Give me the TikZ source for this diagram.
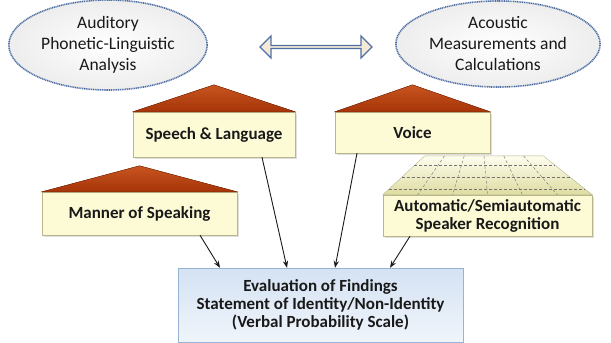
\documentclass[tikz,border=0pt]{standalone}
\usepackage{fontspec}
\setmainfont{Carlito}
\usepackage{tikz}
\usetikzlibrary{positioning,arrows.meta,shadows,shapes.geometric,shapes.arrows,calc}

\definecolor{inkc}{RGB}{25,25,25}
\definecolor{roofc}{RGB}{165,52,8}
\definecolor{roofhi}{RGB}{200,85,32}
\definecolor{boxc}{RGB}{253,251,214}
\definecolor{boxline}{RGB}{185,182,140}
\definecolor{ovalline}{RGB}{80,112,165}
\definecolor{evaltop}{RGB}{212,226,243}
\definecolor{evalbot}{RGB}{240,245,251}
\definecolor{evalline}{RGB}{150,180,212}
\definecolor{beamc}{RGB}{243,233,214}

\begin{document}
\begin{tikzpicture}[
x=1pt,y=-1pt,
>=Stealth,
oval/.style={
ellipse,
draw=ovalline,
dash pattern=on 1.1pt off 0.7pt,
line width=1.6pt,
inner color=white,
outer color=black!7,
align=center,
text=inkc,
font=\fontsize{17.5}{21}\selectfont
},
box/.style={
draw=boxline,
fill=boxc,
inner sep=0pt,
align=center,
text=inkc,
font=\fontsize{17}{18}\selectfont\bfseries,
drop shadow={opacity=0.25,shadow xshift=1.5pt,shadow yshift=-1.5pt}
},
evalbox/.style={
draw=evalline,
top color=evaltop,
bottom color=evalbot,
inner sep=0pt,
align=center,
text=inkc,
font=\fontsize{17}{18}\selectfont\bfseries
},
roof/.style={
top color=roofhi,
bottom color=roofc,
draw=roofc!80!black,
line width=0.4pt
},
gridline/.style={draw=black!55,densely dashed,line width=0.4pt},
arrow/.style={->,line width=0.9pt,inkc}
]
\useasboundingbox (0,0) rectangle (611,343);

%---------------- Top ----------------%

\node[oval,minimum width=193pt,minimum height=74pt] (auditory) at (108,45)
{Auditory\\Phonetic-Linguistic\\Analysis};

\node[oval,minimum width=203pt,minimum height=72pt] (acoustic) at (498,44)
{Acoustic\\Measurements and\\Calculations};

\node[double arrow,draw=ovalline,fill=beamc,line width=1.2pt,
minimum height=112pt,minimum width=22pt,inner sep=0pt,
double arrow head extend=4pt] (link) at (316,47) {};

%---------------- Boxes ----------------%

\node[box,minimum width=162pt,minimum height=45pt] (speech) at (214,134.5)
{Speech \& Language};

\node[box,minimum width=155pt,minimum height=41pt] (voice) at (412.5,132.5)
{Voice};

\node[box,minimum width=195pt,minimum height=43pt] (manner) at (139.5,213.5)
{Manner of Speaking};

\node[box,minimum width=209pt,minimum height=41pt] (auto) at (487.5,215.5)
{Automatic/Semiautomatic\\Speaker Recognition};

\node[evalbox,minimum width=285pt,minimum height=74pt] (eval) at (320.5,305)
{Evaluation of Findings\\Statement of Identity/Non-Identity\\(Verbal Probability Scale)};

%---------------- Roofs ----------------%

\filldraw[roof] (speech.north west) -- ([yshift=27pt]speech.north) -- (speech.north east) -- cycle;
\filldraw[roof] (voice.north west) -- ([yshift=27pt]voice.north) -- (voice.north east) -- cycle;
\filldraw[roof] (manner.north west) -- ([yshift=26pt]manner.north) -- (manner.north east) -- cycle;

% grid platform
\coordinate (gbl) at (auto.north west);
\coordinate (gbr) at (auto.north east);
\coordinate (gtl) at ([xshift=42pt,yshift=39pt]auto.north west);
\coordinate (gtr) at ([xshift=-49pt,yshift=39pt]auto.north east);
\shade[top color=boxc!40,bottom color=boxc!75!olive,draw=boxline]
(gbl) -- (gtl) -- (gtr) -- (gbr) -- cycle;
\foreach \i in {1,...,5}
\draw[gridline] ($(gtl)!\i/6!(gtr)$) -- ($(gbl)!\i/6!(gbr)$);
\foreach \t in {0.25,0.55,0.85}
\draw[gridline] ($(gtl)!\t!(gbl)$) -- ($(gtr)!\t!(gbr)$);

%---------------- Connections ----------------%

\draw[arrow] ([xshift=60.5pt]manner.south)--([xshift=-100.5pt]eval.north);
\draw[arrow] ([xshift=48pt]speech.south)--([xshift=-33.5pt]eval.north);
\draw[arrow] ([xshift=-55.5pt]voice.south)--([xshift=14.5pt]eval.north);
\draw[arrow] ([xshift=-77.5pt]auto.south)--([xshift=69.5pt]eval.north);

\end{tikzpicture}
\end{document}
